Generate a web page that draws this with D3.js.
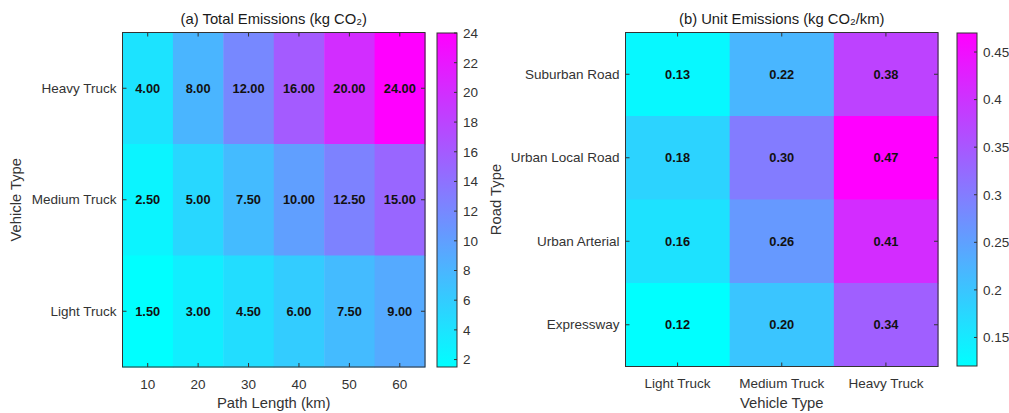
<!DOCTYPE html>
<html><head><meta charset="utf-8">
<script src="https://cdn.jsdelivr.net/npm/d3@7"></script>
<style>
body{margin:0;background:#fff;}
text{font-family:"Liberation Sans",Arial,Helvetica,sans-serif;}
</style></head>
<body><svg id="c" width="1009" height="413"></svg>
<script>
// ---- data ----
const pathLengths = [10, 20, 30, 40, 50, 60];
const vehicleTypesA = ["Heavy Truck", "Medium Truck", "Light Truck"]; // top to bottom
const totalHeavy  = [4.00, 8.00, 12.00, 16.00, 20.00, 24.00];
const totalMedium = [2.50, 5.00, 7.50, 10.00, 12.50, 15.00];
const totalLight  = [1.50, 3.00, 4.50, 6.00, 7.50, 9.00];
const cbTicksA = [2, 4, 6, 8, 10, 12, 14, 16, 18, 20, 22, 24];

const vehicleTypesB = ["Light Truck", "Medium Truck", "Heavy Truck"];
const roadTypes = ["Suburban Road", "Urban Local Road", "Urban Arterial", "Expressway"]; // top to bottom
const unitSuburban = [0.13, 0.22, 0.38];
const unitUrbanLocal = [0.18, 0.30, 0.47];
const unitArterial = [0.16, 0.26, 0.41];
const unitExpressway = [0.12, 0.20, 0.34];
const cbTicksB = [0.15, 0.2, 0.25, 0.3, 0.35, 0.4, 0.45];

const svg = d3.select("#c");
const axisColor = "#333333";
const tickFont = "13.5px";
const cool = d3.interpolateRgb("#00ffff", "#ff00ff");

function panel(opt) {
  const {x0, x1, y0, y1, cols, rows, grid, fmtCol, title, xlabel, ylabel, ylabelX,
         cbX, cbTop, cbBot, cbTicks, cbFmt, id} = opt;
  const all = grid.flat();
  const vmin = d3.min(all), vmax = d3.max(all);
  const color = d3.scaleSequential(cool).domain([vmin, vmax]);
  const xs = d3.scaleBand().domain(cols.map(String)).range([x0, x1]);
  const ys = d3.scaleBand().domain(rows).range([y0, y1]);
  const g = svg.append("g");
  rows.forEach((r, i) => {
    cols.forEach((c, j) => {
      const v = grid[i][j];
      g.append("rect").attr("x", xs(String(c))).attr("y", ys(r))
        .attr("width", xs.bandwidth() + 0.5).attr("height", ys.bandwidth() + 0.5)
        .attr("fill", color(v));
      g.append("text").attr("x", xs(String(c)) + xs.bandwidth() / 2)
        .attr("y", ys(r) + ys.bandwidth() / 2).attr("dy", "0.35em")
        .attr("text-anchor", "middle").attr("font-weight", "bold")
        .attr("font-size", "12.8px").attr("fill", "#111").text(v.toFixed(2));
    });
  });
  g.append("rect").attr("x", x0).attr("y", y0).attr("width", x1 - x0).attr("height", y1 - y0)
    .attr("fill", "none").attr("stroke", axisColor).attr("stroke-width", 1);
  const tl = 4;
  const xa = d3.axisBottom(xs).tickSize(0).tickPadding(12).tickFormat(fmtCol);
  const gx = g.append("g").attr("transform", `translate(0,${y1})`).call(xa);
  gx.select(".domain").remove();
  gx.selectAll("text").attr("font-size", tickFont).attr("fill", axisColor)
    .style("font-family", '"Liberation Sans",Arial,sans-serif');
  cols.forEach(c => {
    const cx = xs(String(c)) + xs.bandwidth() / 2;
    g.append("line").attr("x1", cx).attr("x2", cx).attr("y1", y1).attr("y2", y1 - tl).attr("stroke", axisColor);
    g.append("line").attr("x1", cx).attr("x2", cx).attr("y1", y0).attr("y2", y0 + tl).attr("stroke", axisColor);
  });
  const ya = d3.axisLeft(ys).tickSize(0).tickPadding(6);
  const gy = g.append("g").attr("transform", `translate(${x0},0)`).call(ya);
  gy.select(".domain").remove();
  gy.selectAll("text").attr("font-size", tickFont).attr("fill", axisColor)
    .style("font-family", '"Liberation Sans",Arial,sans-serif');
  rows.forEach(r => {
    const cy = ys(r) + ys.bandwidth() / 2;
    g.append("line").attr("x1", x0).attr("x2", x0 + tl).attr("y1", cy).attr("y2", cy).attr("stroke", axisColor);
    g.append("line").attr("x1", x1).attr("x2", x1 - tl).attr("y1", cy).attr("y2", cy).attr("stroke", axisColor);
  });
  const cxm = (x0 + x1) / 2;
  g.append("text").attr("x", cxm).attr("y", 24).attr("text-anchor", "middle")
    .attr("font-size", "14.8px").attr("fill", "#1a1a1a").text(title);
  g.append("text").attr("x", cxm).attr("y", 408).attr("text-anchor", "middle")
    .attr("font-size", "14.8px").attr("fill", axisColor).text(xlabel);
  g.append("text").attr("transform", `translate(${ylabelX},${(y0 + y1) / 2}) rotate(-90)`)
    .attr("text-anchor", "middle").attr("font-size", "14.8px").attr("fill", axisColor).text(ylabel);
  // colorbar
  const cbW = 20;
  const defs = svg.append("defs");
  const grad = defs.append("linearGradient").attr("id", id).attr("x1", 0).attr("y1", 1).attr("x2", 0).attr("y2", 0);
  d3.range(0, 1.0001, 0.1).forEach(t => grad.append("stop").attr("offset", t).attr("stop-color", cool(t)));
  g.append("rect").attr("x", cbX).attr("y", cbTop).attr("width", cbW).attr("height", cbBot - cbTop)
    .attr("fill", `url(#${id})`).attr("stroke", axisColor).attr("stroke-width", 1);
  const cs = d3.scaleLinear().domain([vmin, vmax]).range([cbBot, cbTop]);
  const ca = d3.axisRight(cs).tickValues(cbTicks).tickSize(0).tickPadding(6).tickFormat(cbFmt);
  const gc = g.append("g").attr("transform", `translate(${cbX + cbW},0)`).call(ca);
  gc.select(".domain").remove();
  gc.selectAll("text").attr("font-size", tickFont).attr("fill", axisColor)
    .style("font-family", '"Liberation Sans",Arial,sans-serif');
  cbTicks.forEach(t => {
    g.append("line").attr("x1", cbX + cbW).attr("x2", cbX + cbW - 3).attr("y1", cs(t)).attr("y2", cs(t)).attr("stroke", axisColor);
  });
}

panel({
  id: "gA", x0: 122.5, x1: 425, y0: 32.5, y1: 367,
  cols: pathLengths, rows: vehicleTypesA,
  grid: [totalHeavy, totalMedium, totalLight],
  fmtCol: d => d,
  title: "(a) Total Emissions (kg CO\u2082)", xlabel: "Path Length (km)", ylabel: "Vehicle Type", ylabelX: 21,
  cbX: 437, cbTop: 33, cbBot: 367, cbTicks: cbTicksA, cbFmt: d3.format("d")
});
panel({
  id: "gB", x0: 625.5, x1: 938, y0: 32.5, y1: 366.5,
  cols: vehicleTypesB, rows: roadTypes,
  grid: [unitSuburban, unitUrbanLocal, unitArterial, unitExpressway],
  fmtCol: d => d,
  title: "(b) Unit Emissions (kg CO\u2082/km)", xlabel: "Vehicle Type", ylabel: "Road Type", ylabelX: 501,
  cbX: 957, cbTop: 33, cbBot: 366, cbTicks: cbTicksB, cbFmt: d => String(d)
});
</script></body></html>
